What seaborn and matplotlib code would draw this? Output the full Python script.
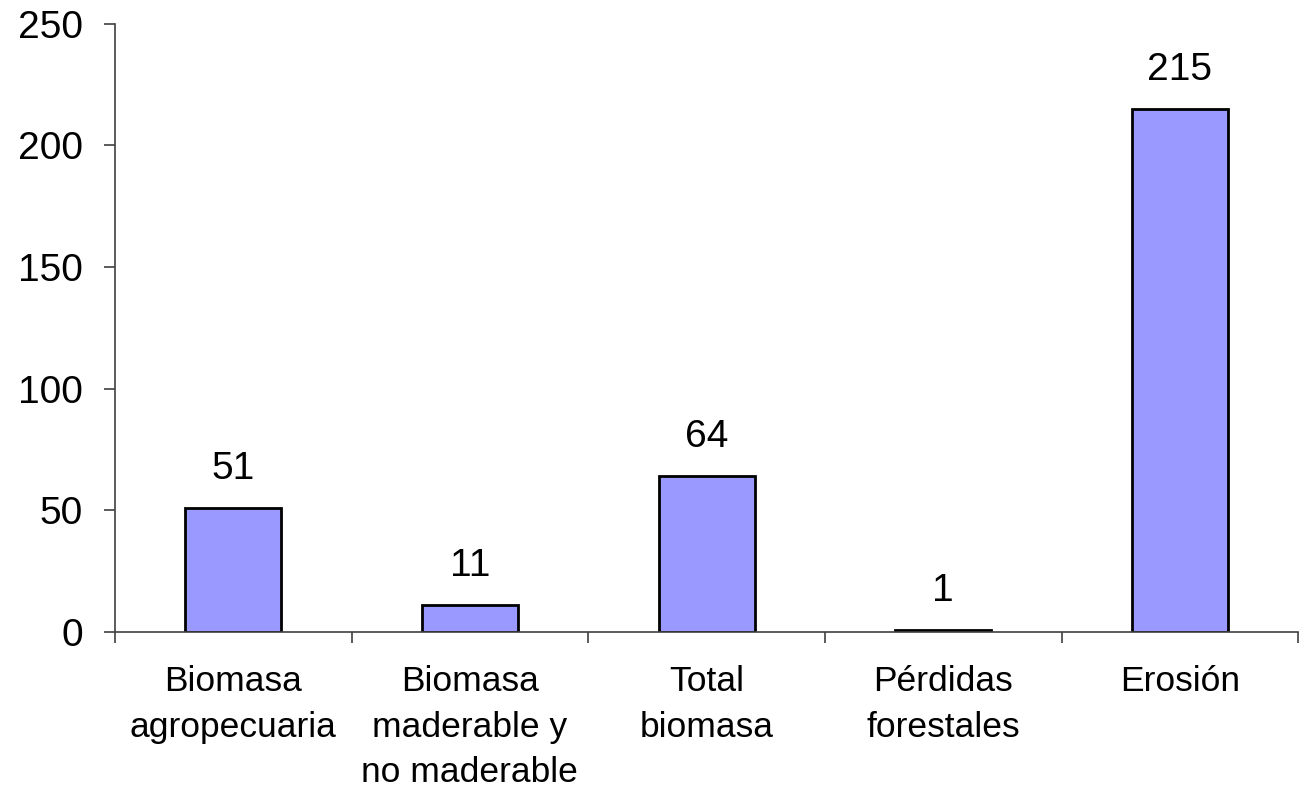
import numpy as np
import pandas as pd
import matplotlib
matplotlib.use("Agg")
import matplotlib.pyplot as plt
import seaborn as sns

categorias = ["Biomasa\nagropecuaria", "Biomasa\nmaderable y\nno maderable",
              "Total\nbiomasa", "Pérdidas\nforestales", "Erosión"]
valores = [51, 11, 64, 1, 215]
yticks = [0, 50, 100, 150, 200, 250]

df = pd.DataFrame({"categoria": categorias, "valor": valores})

sns.set_style("white")
plt.rcParams["font.family"] = ["Liberation Sans", "DejaVu Sans"]
plt.rcParams["text.color"] = "black"
plt.rcParams["xtick.color"] = "black"
plt.rcParams["ytick.color"] = "black"

fig = plt.figure(figsize=(13.06, 7.95), dpi=100)
ax = fig.add_axes([0.088, 0.205, 0.906, 0.765])

sns.barplot(data=df, x="categoria", y="valor", color="#9999FF", saturation=1,
            width=0.406, edgecolor="black", linewidth=2, ax=ax)

ax.set_xlim(-0.5, len(categorias) - 0.5)
ax.set_ylim(0, 250)
ax.set_yticks(yticks)
ax.set_yticklabels([str(t) for t in yticks], fontsize=28)
ax.set_xlabel("")
ax.set_ylabel("")

ax.set_xticks(range(len(categorias)))
ax.set_xticklabels(categorias, fontsize=25.5, linespacing=1.48)
ax.set_xticks(np.arange(-0.5, len(categorias), 1.0), minor=True)
ax.tick_params(axis="x", which="major", length=0, pad=24)
ax.tick_params(axis="x", which="minor", bottom=True, length=8, width=1.2,
               color="#404040", direction="out")
ax.tick_params(axis="y", left=True, length=8, width=1.2, color="#404040",
               direction="out", pad=15)

for s in ["top", "right"]:
    ax.spines[s].set_visible(False)
for s in ["left", "bottom"]:
    ax.spines[s].set_color("#404040")
    ax.spines[s].set_linewidth(1.2)

for i, v in enumerate(valores):
    ax.annotate(str(v), (i, v), xytext=(0, 15), textcoords="offset points",
                ha="center", va="bottom", fontsize=28)

fig.savefig("out.png", dpi=100)
